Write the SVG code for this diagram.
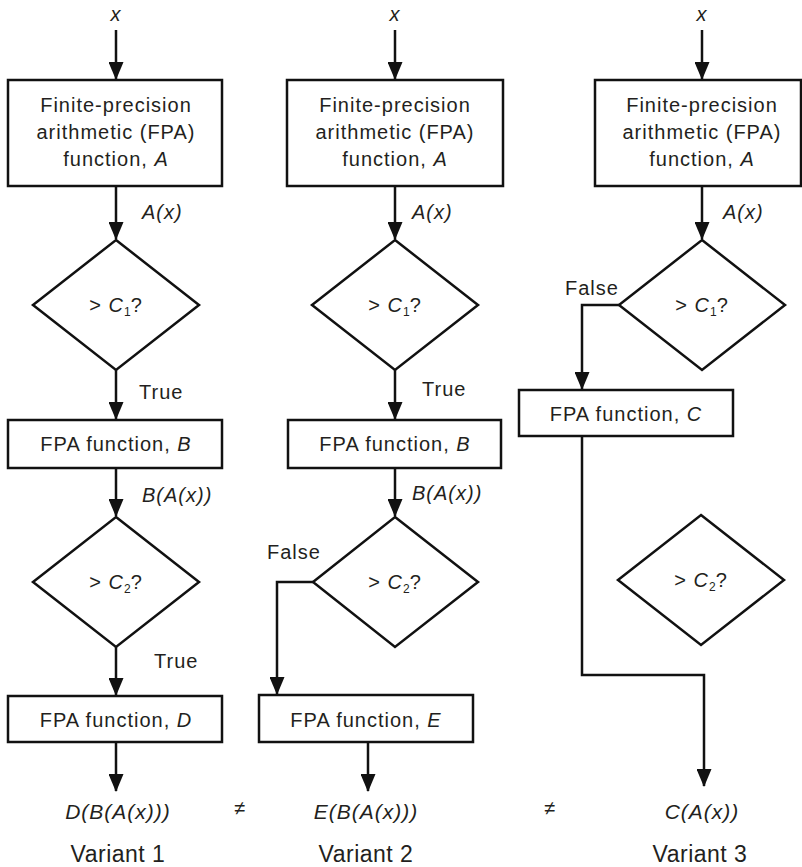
<svg xmlns="http://www.w3.org/2000/svg" width="802" height="867" viewBox="0 0 802 867">
  <style>
    .box { fill: #fff; stroke: #111; stroke-width: 2.5; }
    .dia { fill: #fff; stroke: #111; stroke-width: 2.5; }
    .wire { fill: none; stroke: #111; stroke-width: 2.5; }
    text { font-family: "Liberation Sans", Arial, sans-serif; font-size: 20px; letter-spacing: 1px; fill: #231f20; }
    .c { text-anchor: middle; }
    .i { font-style: italic; }
    .sub { font-size: 12px; font-style: normal; letter-spacing: 0; }
    .res { font-size: 21px; }
    .var { font-size: 23px; letter-spacing: 0.5px; }
  </style>
  <defs>
    <marker id="arrow" markerUnits="userSpaceOnUse" markerWidth="18" markerHeight="15" viewBox="0 0 18 15" refX="17" refY="7.5" orient="auto">
      <path d="M0,0 L18,7.5 L0,15 z" fill="#111"/>
    </marker>
  </defs>

  <!-- connectors -->
  <g id="connectors">
    <!-- variant 1 -->
    <path class="wire" d="M116,30 V79" marker-end="url(#arrow)"/>
    <path class="wire" d="M116,186 V239" marker-end="url(#arrow)"/>
    <path class="wire" d="M116,370 V419" marker-end="url(#arrow)"/>
    <path class="wire" d="M116,468 V516" marker-end="url(#arrow)"/>
    <path class="wire" d="M116,647 V695" marker-end="url(#arrow)"/>
    <path class="wire" d="M116,742 V791" marker-end="url(#arrow)"/>
    <!-- variant 2 -->
    <path class="wire" d="M395,30 V79" marker-end="url(#arrow)"/>
    <path class="wire" d="M395,186 V239" marker-end="url(#arrow)"/>
    <path class="wire" d="M395,370 V419" marker-end="url(#arrow)"/>
    <path class="wire" d="M395,468 V516" marker-end="url(#arrow)"/>
    <path class="wire" d="M313,582 H277 V694" marker-end="url(#arrow)"/>
    <path class="wire" d="M368,742 V791" marker-end="url(#arrow)"/>
    <!-- variant 3 -->
    <path class="wire" d="M702,30 V79" marker-end="url(#arrow)"/>
    <path class="wire" d="M702,186 V239" marker-end="url(#arrow)"/>
    <path class="wire" d="M619,305 H582 V389" marker-end="url(#arrow)"/>
    <path class="wire" d="M582,436 V675 H704 V786" marker-end="url(#arrow)"/>
  </g>

  <!-- edge labels -->
  <g id="edge-labels">
    <text class="c i" x="116" y="21">x</text>
    <text class="c i" x="395" y="21">x</text>
    <text class="c i" x="702" y="21">x</text>

    <text class="i" x="142" y="219">A(x)</text>
    <text class="i" x="412" y="219">A(x)</text>
    <text class="i" x="723" y="219">A(x)</text>

    <text x="139" y="399">True</text>
    <text x="422" y="396">True</text>
    <text x="154" y="668">True</text>

    <text class="i" x="142" y="502">B(A(x))</text>
    <text class="i" x="412" y="500">B(A(x))</text>

    <text x="267" y="559">False</text>
    <text x="565" y="295">False</text>
  </g>

  <!-- variant 1 -->
  <g id="v1-fpa-a">
    <rect class="box" x="8" y="80" width="214" height="106"/>
    <text class="c" x="116" y="112">Finite-precision</text>
    <text class="c" x="116" y="139">arithmetic (FPA)</text>
    <text class="c" x="116" y="166">function, <tspan class="i">A</tspan></text>
  </g>
  <g id="v1-test-c1">
    <polygon class="dia" points="116,240 199,305 116,370 33,305"/>
    <text class="c" x="116" y="312">&gt; <tspan class="i">C</tspan><tspan class="sub" dy="4">1</tspan><tspan dy="-4">?</tspan></text>
  </g>
  <g id="v1-fpa-b">
    <rect class="box" x="8" y="420" width="214" height="48"/>
    <text class="c" x="116" y="451">FPA function, <tspan class="i">B</tspan></text>
  </g>
  <g id="v1-test-c2">
    <polygon class="dia" points="116,517 199,582 116,647 33,582"/>
    <text class="c" x="116" y="589">&gt; <tspan class="i">C</tspan><tspan class="sub" dy="4">2</tspan><tspan dy="-4">?</tspan></text>
  </g>
  <g id="v1-fpa-d">
    <rect class="box" x="8" y="696" width="214" height="46"/>
    <text class="c" x="116" y="727">FPA function, <tspan class="i">D</tspan></text>
  </g>
  <g id="v1-result">
    <text class="c i res" x="118" y="819">D(B(A(x)))</text>
    <text class="c var" x="118" y="862">Variant 1</text>
  </g>

  <!-- variant 2 -->
  <g id="v2-fpa-a">
    <rect class="box" x="287" y="80" width="216" height="106"/>
    <text class="c" x="395" y="112">Finite-precision</text>
    <text class="c" x="395" y="139">arithmetic (FPA)</text>
    <text class="c" x="395" y="166">function, <tspan class="i">A</tspan></text>
  </g>
  <g id="v2-test-c1">
    <polygon class="dia" points="395,240 478,305 395,370 312,305"/>
    <text class="c" x="395" y="312">&gt; <tspan class="i">C</tspan><tspan class="sub" dy="4">1</tspan><tspan dy="-4">?</tspan></text>
  </g>
  <g id="v2-fpa-b">
    <rect class="box" x="288" y="420" width="213" height="48"/>
    <text class="c" x="395" y="451">FPA function, <tspan class="i">B</tspan></text>
  </g>
  <g id="v2-test-c2">
    <polygon class="dia" points="395,517 478,582 395,647 313,582"/>
    <text class="c" x="395" y="589">&gt; <tspan class="i">C</tspan><tspan class="sub" dy="4">2</tspan><tspan dy="-4">?</tspan></text>
  </g>
  <g id="v2-fpa-e">
    <rect class="box" x="259" y="695" width="214" height="47"/>
    <text class="c" x="366" y="727">FPA function, <tspan class="i">E</tspan></text>
  </g>
  <g id="v2-result">
    <text class="c i res" x="366" y="819">E(B(A(x)))</text>
    <text class="c var" x="366" y="862">Variant 2</text>
  </g>

  <!-- variant 3 -->
  <g id="v3-fpa-a">
    <rect class="box" x="595" y="80" width="206" height="106"/>
    <text class="c" x="702" y="112">Finite-precision</text>
    <text class="c" x="702" y="139">arithmetic (FPA)</text>
    <text class="c" x="702" y="166">function, <tspan class="i">A</tspan></text>
  </g>
  <g id="v3-test-c1">
    <polygon class="dia" points="702,240 785,305 702,370 619,305"/>
    <text class="c" x="702" y="312">&gt; <tspan class="i">C</tspan><tspan class="sub" dy="4">1</tspan><tspan dy="-4">?</tspan></text>
  </g>
  <g id="v3-fpa-c">
    <rect class="box" x="519" y="390" width="214" height="46"/>
    <text class="c" x="626" y="421">FPA function, <tspan class="i">C</tspan></text>
  </g>
  <g id="v3-test-c2">
    <polygon class="dia" points="701,515 784,580 701,645 618,580"/>
    <text class="c" x="701" y="587">&gt; <tspan class="i">C</tspan><tspan class="sub" dy="4">2</tspan><tspan dy="-4">?</tspan></text>
  </g>
  <g id="v3-result">
    <text class="c i res" x="702" y="819">C(A(x))</text>
    <text class="c var" x="700" y="862">Variant 3</text>
  </g>

  <!-- inequality signs -->
  <g id="neq">
    <text class="c" x="240" y="815">≠</text>
    <text class="c" x="550" y="815">≠</text>
  </g>
</svg>
